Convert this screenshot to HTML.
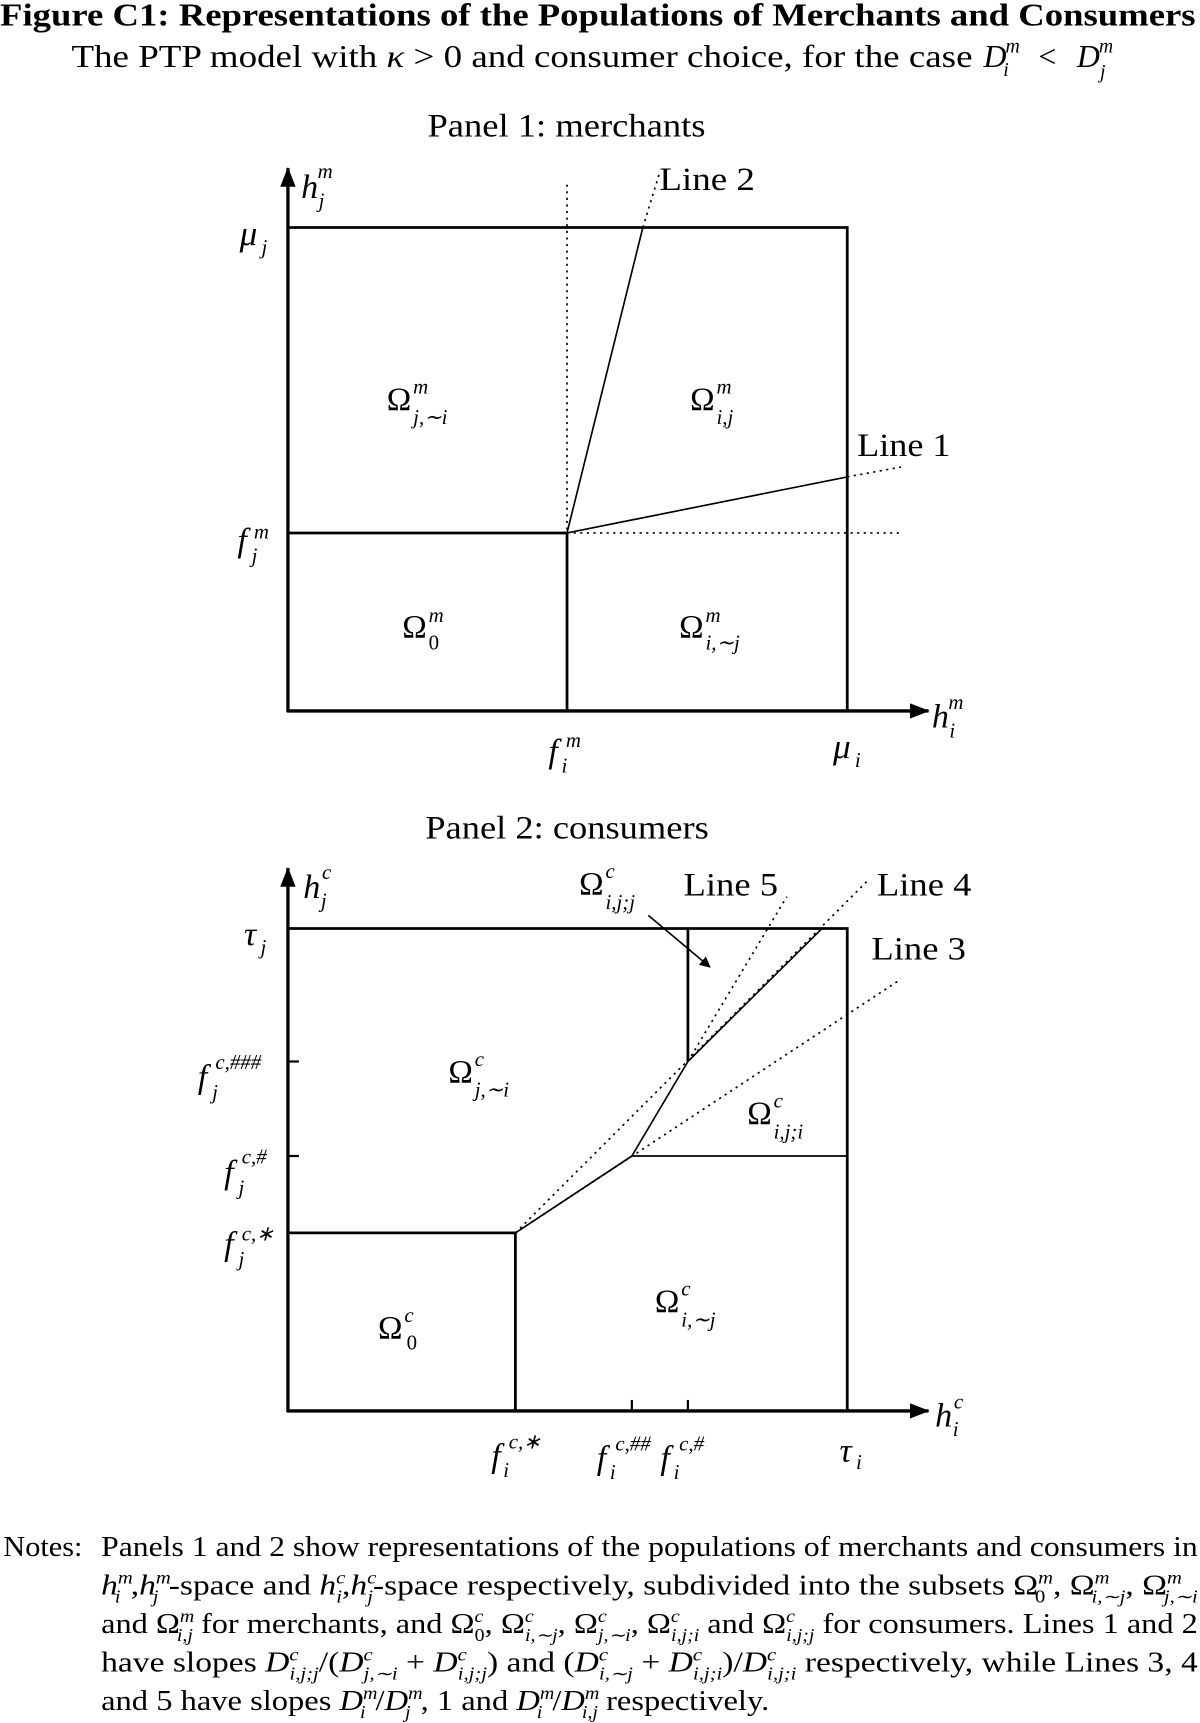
<!DOCTYPE html>
<html><head><meta charset="utf-8"><style>
html,body{margin:0;padding:0;background:#fff;}
svg{display:block;}
text{font-family:"Liberation Serif",serif;fill:#000;}
.i{font-style:italic;}
</style></head><body>
<svg width="1200" height="1723" viewBox="0 0 1092 1568" xmlns="http://www.w3.org/2000/svg">
<defs>
<marker id="ah" markerWidth="10" markerHeight="10" refX="9" refY="5" orient="auto" markerUnits="userSpaceOnUse">
<path d="M0,0 L10,5 L0,10 z" fill="#000"/></marker>
<marker id="ab" markerWidth="18" markerHeight="14" refX="17" refY="7" orient="auto" markerUnits="userSpaceOnUse">
<path d="M0,0 L18,7 L0,14 z" fill="#000"/></marker>
</defs>
<text x="0" y="23" font-size="29" font-weight="bold" textLength="1088" lengthAdjust="spacingAndGlyphs">Figure C1: Representations of the Populations of Merchants and Consumers</text>
<text x="65" y="61" font-size="29" textLength="820" lengthAdjust="spacingAndGlyphs">The PTP model with <tspan class="i">κ</tspan> &gt; 0 and consumer choice, for the case</text>
<text x="895" y="61" font-size="29" class="i">D</text><text x="945" y="61" font-size="29">&lt;</text>
<text x="913" y="69" font-size="18" class="i">i</text><text x="915" y="48" font-size="18" class="i">m</text>
<text x="980" y="61" font-size="29" class="i">D</text><text x="1001" y="71" font-size="18" class="i">j</text><text x="1000" y="48" font-size="18" class="i">m</text>

<!-- Panel 1 -->
<text x="389" y="124" font-size="30" textLength="253" lengthAdjust="spacingAndGlyphs">Panel 1: merchants</text>
<g stroke="#000" fill="none">
<line x1="262" y1="648" x2="262" y2="153" stroke-width="3" marker-end="url(#ab)"/>
<line x1="261" y1="647" x2="845" y2="647" stroke-width="3" marker-end="url(#ab)"/>
<polyline points="262,207 771,207 771,647" stroke-width="2.5"/>
<polyline points="262,485 516,485 516,647" stroke-width="2.5"/>
<line x1="516" y1="168" x2="516" y2="485" stroke-width="1.5" stroke-dasharray="2,4"/>
<line x1="516" y1="485" x2="822" y2="485" stroke-width="1.5" stroke-dasharray="2,4"/>
<line x1="516" y1="485" x2="585" y2="207" stroke-width="1.5"/>
<line x1="585" y1="207" x2="600" y2="158" stroke-width="1.5" stroke-dasharray="2,4"/>
<line x1="516" y1="485" x2="771" y2="434" stroke-width="1.5"/>
<line x1="771" y1="434" x2="820" y2="425" stroke-width="1.5" stroke-dasharray="2,4"/>
</g>
<text x="274" y="180" font-size="31" class="i">h</text><text x="290" y="189" font-size="19" class="i">j</text><text x="289" y="162" font-size="19" class="i">m</text>
<text x="600" y="173" font-size="30" textLength="87" lengthAdjust="spacingAndGlyphs">Line 2</text>
<text x="780" y="415" font-size="30" textLength="85" lengthAdjust="spacingAndGlyphs">Line 1</text>
<text x="218" y="223" font-size="32" class="i">μ</text><text x="238" y="231" font-size="19" class="i">j</text>
<text x="216" y="502" font-size="31" class="i">f</text><text x="229" y="512" font-size="19" class="i">j</text><text x="231" y="490" font-size="19" class="i">m</text>
<text x="352" y="373" font-size="30">Ω</text><text x="376" y="358" font-size="19" class="i">m</text><text x="376" y="386" font-size="19" class="i">j,∼i</text>
<text x="628" y="373" font-size="30">Ω</text><text x="652" y="358" font-size="19" class="i">m</text><text x="652" y="386" font-size="19" class="i">i,j</text>
<text x="366" y="580" font-size="30">Ω</text><text x="390" y="566" font-size="19" class="i">m</text><text x="390" y="591" font-size="19">0</text>
<text x="618" y="580" font-size="30">Ω</text><text x="642" y="566" font-size="19" class="i">m</text><text x="642" y="591" font-size="19" class="i">i,∼j</text>
<text x="848" y="662" font-size="31" class="i">h</text><text x="864" y="671" font-size="19" class="i">i</text><text x="863" y="645" font-size="19" class="i">m</text>
<text x="499" y="694" font-size="31" class="i">f</text><text x="511" y="703" font-size="19" class="i">i</text><text x="515" y="680" font-size="19" class="i">m</text>
<text x="758" y="690" font-size="32" class="i">μ</text><text x="778" y="698" font-size="19" class="i">i</text>

<!-- Panel 2 -->
<text x="387" y="763" font-size="30" textLength="258" lengthAdjust="spacingAndGlyphs">Panel 2: consumers</text>
<g stroke="#000" fill="none">
<line x1="262" y1="1285" x2="262" y2="790" stroke-width="3" marker-end="url(#ab)"/>
<line x1="261" y1="1284" x2="845" y2="1284" stroke-width="3" marker-end="url(#ab)"/>
<polyline points="262,845 771,845 771,1284" stroke-width="2.5"/>
<polyline points="262,1122 469,1122 469,1284" stroke-width="2.5"/>
<polyline points="469,1122 575,1052 626,966 748,845" stroke-width="1.5"/>
<line x1="575" y1="1052" x2="771" y2="1052" stroke-width="1.5"/>
<line x1="626" y1="845" x2="626" y2="966" stroke-width="2.5"/>
<line x1="469" y1="1122" x2="820" y2="891" stroke-width="1.5" stroke-dasharray="2,4"/>
<line x1="469" y1="1122" x2="790" y2="801" stroke-width="1.5" stroke-dasharray="2,4"/>
<line x1="626" y1="966" x2="716" y2="816" stroke-width="1.5" stroke-dasharray="2,4"/>
<line x1="262" y1="966" x2="272" y2="966" stroke-width="2"/>
<line x1="262" y1="1052" x2="272" y2="1052" stroke-width="2"/>
<line x1="575" y1="1284" x2="575" y2="1274" stroke-width="2"/>
<line x1="626" y1="1284" x2="626" y2="1274" stroke-width="2"/>
<line x1="590" y1="833" x2="646" y2="880" stroke-width="1.5" marker-end="url(#ah)"/>
</g>
<text x="276" y="817" font-size="31" class="i">h</text><text x="292" y="826" font-size="19" class="i">j</text><text x="293" y="800" font-size="19" class="i">c</text>
<text x="527" y="814" font-size="30">Ω</text><text x="551" y="799" font-size="19" class="i">c</text><text x="551" y="827" font-size="19" class="i">i,j;j</text>
<text x="622" y="815" font-size="30" textLength="86" lengthAdjust="spacingAndGlyphs">Line 5</text>
<text x="798" y="815" font-size="30" textLength="86" lengthAdjust="spacingAndGlyphs">Line 4</text>
<text x="793" y="873" font-size="30" textLength="86" lengthAdjust="spacingAndGlyphs">Line 3</text>
<text x="222" y="860" font-size="31" class="i">τ</text><text x="237" y="868" font-size="19" class="i">j</text>
<text x="180" y="990" font-size="31" class="i">f</text><text x="193" y="1000" font-size="19" class="i">j</text><text x="196" y="973" font-size="19" class="i">c,###</text>
<text x="204" y="1077" font-size="31" class="i">f</text><text x="217" y="1087" font-size="19" class="i">j</text><text x="220" y="1059" font-size="19" class="i">c,#</text>
<text x="204" y="1142" font-size="31" class="i">f</text><text x="217" y="1152" font-size="19" class="i">j</text><text x="220" y="1129" font-size="19" class="i">c,∗</text>
<text x="408" y="985" font-size="30">Ω</text><text x="432" y="970" font-size="19" class="i">c</text><text x="432" y="998" font-size="19" class="i">j,∼i</text>
<text x="680" y="1023" font-size="30">Ω</text><text x="704" y="1008" font-size="19" class="i">c</text><text x="704" y="1036" font-size="19" class="i">i,j;i</text>
<text x="596" y="1194" font-size="30">Ω</text><text x="620" y="1179" font-size="19" class="i">c</text><text x="620" y="1207" font-size="19" class="i">i,∼j</text>
<text x="344" y="1218" font-size="30">Ω</text><text x="368" y="1203" font-size="19" class="i">c</text><text x="370" y="1228" font-size="19">0</text>
<text x="851" y="1298" font-size="31" class="i">h</text><text x="867" y="1307" font-size="19" class="i">i</text><text x="868" y="1282" font-size="19" class="i">c</text>
<text x="447" y="1335" font-size="31" class="i">f</text><text x="458" y="1344" font-size="19" class="i">i</text><text x="463" y="1318" font-size="19" class="i">c,∗</text>
<text x="543" y="1337" font-size="31" class="i">f</text><text x="555" y="1346" font-size="19" class="i">i</text><text x="560" y="1320" font-size="19" class="i">c,##</text>
<text x="601" y="1337" font-size="31" class="i">f</text><text x="613" y="1346" font-size="19" class="i">i</text><text x="618" y="1320" font-size="19" class="i">c,#</text>
<text x="764" y="1330" font-size="31" class="i">τ</text><text x="779" y="1337" font-size="19" class="i">i</text>

<!-- Notes -->
<g font-size="26">
<text x="3" y="1416" textLength="72" lengthAdjust="spacingAndGlyphs">Notes:</text>
<text x="92" y="1416" textLength="998" lengthAdjust="spacingAndGlyphs">Panels 1 and 2 show representations of the populations of merchants and consumers in</text>
<text x="92" y="1451" textLength="998" lengthAdjust="spacingAndGlyphs"><tspan class="i">h</tspan><tspan class="i" font-size="16" baseline-shift="10">m</tspan><tspan class="i" font-size="16" baseline-shift="-7" dx="-14">i</tspan><tspan dx="8">,</tspan><tspan class="i">h</tspan><tspan class="i" font-size="16" baseline-shift="10">m</tspan><tspan class="i" font-size="16" baseline-shift="-7" dx="-14">j</tspan><tspan dx="8">-space and </tspan><tspan class="i">h</tspan><tspan class="i" font-size="16" baseline-shift="10">c</tspan><tspan class="i" font-size="16" baseline-shift="-7" dx="-7">i</tspan><tspan>,</tspan><tspan class="i">h</tspan><tspan class="i" font-size="16" baseline-shift="10">c</tspan><tspan class="i" font-size="16" baseline-shift="-7" dx="-7">j</tspan><tspan>-space respectively, subdivided into the subsets Ω</tspan><tspan class="i" font-size="16" baseline-shift="10">m</tspan><tspan font-size="16" baseline-shift="-7" dx="-14">0</tspan><tspan dx="6">, Ω</tspan><tspan class="i" font-size="16" baseline-shift="10">m</tspan><tspan class="i" font-size="16" baseline-shift="-7" dx="-14">i,∼j</tspan><tspan>, Ω</tspan><tspan class="i" font-size="16" baseline-shift="10">m</tspan><tspan class="i" font-size="16" baseline-shift="-7" dx="-14">j,∼i</tspan></text>
<text x="92" y="1486" textLength="998" lengthAdjust="spacingAndGlyphs">and Ω<tspan class="i" font-size="16" baseline-shift="10">m</tspan><tspan class="i" font-size="16" baseline-shift="-7" dx="-14">i,j</tspan><tspan> for merchants, and Ω</tspan><tspan class="i" font-size="16" baseline-shift="10">c</tspan><tspan font-size="16" baseline-shift="-7" dx="-7">0</tspan><tspan>, Ω</tspan><tspan class="i" font-size="16" baseline-shift="10">c</tspan><tspan class="i" font-size="16" baseline-shift="-7" dx="-7">i,∼j</tspan><tspan>, Ω</tspan><tspan class="i" font-size="16" baseline-shift="10">c</tspan><tspan class="i" font-size="16" baseline-shift="-7" dx="-7">j,∼i</tspan><tspan>, Ω</tspan><tspan class="i" font-size="16" baseline-shift="10">c</tspan><tspan class="i" font-size="16" baseline-shift="-7" dx="-7">i,j;i</tspan><tspan> and Ω</tspan><tspan class="i" font-size="16" baseline-shift="10">c</tspan><tspan class="i" font-size="16" baseline-shift="-7" dx="-7">i,j;j</tspan><tspan> for consumers. Lines 1 and 2</tspan></text>
<text x="92" y="1521" textLength="998" lengthAdjust="spacingAndGlyphs">have slopes <tspan class="i">D</tspan><tspan class="i" font-size="16" baseline-shift="10">c</tspan><tspan class="i" font-size="16" baseline-shift="-7" dx="-7">i,j;j</tspan><tspan>/(</tspan><tspan class="i">D</tspan><tspan class="i" font-size="16" baseline-shift="10">c</tspan><tspan class="i" font-size="16" baseline-shift="-7" dx="-7">j,∼i</tspan><tspan> + </tspan><tspan class="i">D</tspan><tspan class="i" font-size="16" baseline-shift="10">c</tspan><tspan class="i" font-size="16" baseline-shift="-7" dx="-7">i,j;j</tspan><tspan>) and (</tspan><tspan class="i">D</tspan><tspan class="i" font-size="16" baseline-shift="10">c</tspan><tspan class="i" font-size="16" baseline-shift="-7" dx="-7">i,∼j</tspan><tspan> + </tspan><tspan class="i">D</tspan><tspan class="i" font-size="16" baseline-shift="10">c</tspan><tspan class="i" font-size="16" baseline-shift="-7" dx="-7">i,j;i</tspan><tspan>)/</tspan><tspan class="i">D</tspan><tspan class="i" font-size="16" baseline-shift="10">c</tspan><tspan class="i" font-size="16" baseline-shift="-7" dx="-7">i,j;i</tspan><tspan> respectively, while Lines 3, 4</tspan></text>
<text x="92" y="1556" textLength="608" lengthAdjust="spacingAndGlyphs">and 5 have slopes <tspan class="i">D</tspan><tspan class="i" font-size="16" baseline-shift="10">m</tspan><tspan class="i" font-size="16" baseline-shift="-7" dx="-14">i</tspan><tspan dx="8">/</tspan><tspan class="i">D</tspan><tspan class="i" font-size="16" baseline-shift="10">m</tspan><tspan class="i" font-size="16" baseline-shift="-7" dx="-14">j</tspan><tspan dx="8">, 1 and </tspan><tspan class="i">D</tspan><tspan class="i" font-size="16" baseline-shift="10">m</tspan><tspan class="i" font-size="16" baseline-shift="-7" dx="-14">i</tspan><tspan dx="8">/</tspan><tspan class="i">D</tspan><tspan class="i" font-size="16" baseline-shift="10">m</tspan><tspan class="i" font-size="16" baseline-shift="-7" dx="-14">i,j</tspan><tspan> respectively.</tspan></text>
</g>
</svg>
</body></html>
